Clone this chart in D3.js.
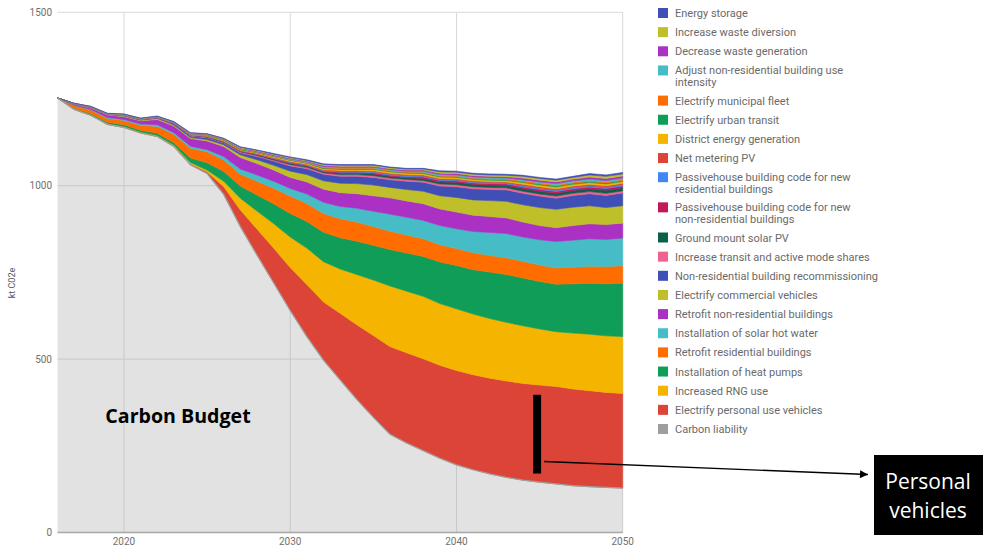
<!DOCTYPE html>
<html><head><meta charset="utf-8">
<script src="https://cdn.jsdelivr.net/npm/d3@7"></script>
<style>
html,body{margin:0;padding:0;background:#fff;}
svg{display:block;}
</style></head>
<body>
<svg id="chart" width="983" height="548"></svg>
<script>
// ---------- DATA ----------
const years = d3.range(2016, 2051);
const yTicks = [0, 500, 1000, 1500];
const xTicks = [2020, 2030, 2040, 2050];
const yTitle = "kt C02e";

// series, bottom of stack first
const seriesNames = [
  "Carbon liability",
  "Electrify personal use vehicles",
  "Increased RNG use",
  "Installation of heat pumps",
  "Retrofit residential buildings",
  "Installation of solar hot water",
  "Retrofit non-residential buildings",
  "Electrify commercial vehicles",
  "Non-residential building recommissioning",
  "Increase transit and active mode shares",
  "Ground mount solar PV",
  "Passivehouse building code for new non-residential buildings",
  "Passivehouse building code for new residential buildings",
  "Net metering PV",
  "District energy generation",
  "Electrify urban transit",
  "Electrify municipal fleet",
  "Adjust non-residential building use intensity",
  "Decrease waste generation",
  "Increase waste diversion",
  "Energy storage"
];
const seriesColors = [
  "#9e9e9e","#db4437","#f4b400","#0f9d58","#ff6d00","#46bdc6","#ab30c4","#bfbf2a",
  "#3f4fb5","#f06292","#0b604b","#c2185b","#4285f4","#db4437","#f4b400","#0f9d58",
  "#ff6d00","#46bdc6","#ab30c4","#bfbf2a","#3f4fb5"
];

const carbonLiability = [1253,1220,1203,1177,1168,1152,1142,1113,1060,1035,975,882,800,720,640,565,497,440,384,332,283,258,236,214,195,181,169,159,151,145,140,135,132,130,128];
const personalVehicles = [0,0,0,0,0,0,0,1,3,5,22,48,75,100,124,150,168,192,215,236,253,260,265,268,272,274,276,278,279,280,281,279,277,274,273];
const rngUse = [0,1,2,2,3,3,3,3,4,5,16,34,52,71,88,105,116,128,145,160,175,178,180,178,178,175,172,169,166,162,158,161,163,163,164];
const heatPumps = [0,2,3,4,5,5,6,7,13,21,28,35,46,57,68,77,85,90,96,100,105,110,115,120,125,128,134,138,138,137,137,142,147,150,154];
const retrofitResidential = [0,8,10,11,12,14,20,24,28,32,33,34,40,45,50,52,54,55,55,54,53,52,51,50,49,49,48,48,48,47,47,48,49,50,50];
const solarHotWater = [0,1,2,3,3,4,5,5,6,6,10,15,18,20,22,27,32,35,40,44,49,51,53,55,57,61,66,70,70,73,76,78,79,78,80];
const retrofitNonRes = [0,3,4,7,8,9,15,19,22,25,29,33,33,32,32,35,38,40,42,45,47,47,48,48,48,47,46,45,43,41,40,42,43,43,43];
const commercialVehicles = [0,1,1,1,2,2,3,3,3,4,5,8,11,14,18,21,24,27,29,31,30,33,36,38,42,44,46,48,50,52,53,53,52,49,50];
const recommissioning = [0,0.5,1,1,2,2,2,4,4,5,5,6,9,12,15,17,19,20,21,22,22,24,26,28,31,32,32,33,33,33,32,34,35,35,37];
const transitActive = [0,0,0.5,0.5,1,1,1,1,2,2,2,3,3,3,4,4,4,5,5,5,5,5,5,6,6,6,6,6,6,6,6,6,6,6,6];
const groundSolar = [0,0,0,0,0,0,0,0,1,1,1,1,2,2,3,3,3,4,4,5,5,5,6,6,7,7,7,7,8,8,8,8,8,9,9];
const passiveNonRes = [0,0,0,0,0,0,0,0,0,0,1,1,1,2,2,2,2,3,3,3,3,3,4,4,4,4,4,4,4,5,5,5,5,5,5];
const passiveRes = [0,0,0,0,0,0,0,0,0,1,1,1,1,1,2,2,2,2,2,3,3,3,3,3,3,3,3,3,4,4,4,4,4,4,4];
const netMetering = [0,0,0,0,0,0,0,1,1,1,1,1,2,2,2,2,2,3,3,3,3,3,3,3,3,3,3,3,4,4,4,4,4,4,4];
const districtEnergy = [0,0,0,0,0,0,1,1,1,1,2,2,2,3,3,3,3,3,3,4,4,4,4,4,4,4,4,4,5,5,5,5,5,5,5];
const urbanTransit = [0,0,0,0,0,0,0,0,0,1,1,1,1,1,1,1,2,2,2,2,2,2,2,2,2,2,2,2,2,3,3,3,3,3,3];
const municipalFleet = [0,0,0,0,0,0,0,0,1,1,1,1,1,1,1,1,2,2,2,2,2,2,2,2,2,2,2,2,3,3,3,3,3,3,3];
const adjustUse = [0,0,0,0,0,0,0,0,1,1,1,1,1,1,2,2,2,2,2,2,2,2,3,3,3,3,3,3,3,3,4,4,4,4,4];
const decreaseWaste = [0,0.5,1,1,1,1,1,1,1,1,1,2,2,2,2,2,3,3,3,3,3,3,3,4,4,4,4,4,5,5,5,5,6,6,6];
const wasteDiversion = [0,0.5,1,1,1,1,1,1,1,1,1,2,2,2,2,2,3,3,3,3,3,3,3,4,4,4,4,4,5,5,5,5,6,6,6];
const energyStorage = [0,0.5,0.5,0.5,1,1,1,1,1,1,1,1,1,2,2,2,2,2,2,2,2,2,2,3,3,3,3,3,3,3,3,3,4,4,4];

const seriesValues = [carbonLiability, personalVehicles, rngUse, heatPumps, retrofitResidential,
  solarHotWater, retrofitNonRes, commercialVehicles, recommissioning, transitActive, groundSolar,
  passiveNonRes, passiveRes, netMetering, districtEnergy, urbanTransit, municipalFleet, adjustUse,
  decreaseWaste, wasteDiversion, energyStorage];

// legend entries (top to bottom), with wrapped labels
const legendLabels = [
  ["Energy storage"],
  ["Increase waste diversion"],
  ["Decrease waste generation"],
  ["Adjust non-residential building use", "intensity"],
  ["Electrify municipal fleet"],
  ["Electrify urban transit"],
  ["District energy generation"],
  ["Net metering PV"],
  ["Passivehouse building code for new", "residential buildings"],
  ["Passivehouse building code for new", "non-residential buildings"],
  ["Ground mount solar PV"],
  ["Increase transit and active mode shares"],
  ["Non-residential building recommissioning"],
  ["Electrify commercial vehicles"],
  ["Retrofit non-residential buildings"],
  ["Installation of solar hot water"],
  ["Retrofit residential buildings"],
  ["Installation of heat pumps"],
  ["Increased RNG use"],
  ["Electrify personal use vehicles"],
  ["Carbon liability"]
];

// ---------- CHART ----------
const svg = d3.select("#chart");
const x = d3.scaleLinear().domain([2016, 2050]).range([57.5, 622.7]);
const y = d3.scaleLinear().domain([0, 1500]).range([532.5, 12.3]);

const table = years.map((yr, i) => {
  const row = {year: yr};
  seriesNames.forEach((n, k) => row[n] = seriesValues[k][i]);
  return row;
});
const stack = d3.stack().keys(seriesNames);
const layers = stack(table);

// grid
const grid = svg.append("g");
grid.selectAll("line.h").data(yTicks.filter(d => d > 0)).join("line")
  .attr("x1", x(2016)).attr("x2", x(2050))
  .attr("y1", d => y(d)).attr("y2", d => y(d))
  .attr("stroke", "#d9d9d9").attr("stroke-width", 1);
grid.selectAll("line.v").data(xTicks).join("line")
  .attr("x1", d => x(d)).attr("x2", d => x(d))
  .attr("y1", y(0)).attr("y2", y(1500))
  .attr("stroke", "#d9d9d9").attr("stroke-width", 1);

const area = d3.area()
  .x(d => x(d.data.year))
  .y0(d => y(d[0]))
  .y1(d => y(d[1]));

svg.append("g").selectAll("path").data(layers).join("path")
  .attr("d", area)
  .attr("fill", (d, i) => seriesColors[i])
  .attr("fill-opacity", (d, i) => i === 0 ? 0.3 : 1)
  .attr("stroke", (d, i) => i === 0 ? "none" : seriesColors[i])
  .attr("stroke-width", 0.6);

// carbon liability top line
svg.append("path")
  .datum(layers[0])
  .attr("d", d3.line().x(d => x(d.data.year)).y(d => y(d[1])))
  .attr("fill", "none").attr("stroke", "#9e9e9e").attr("stroke-width", 1.2);

// baseline
svg.append("line").attr("x1", x(2016)).attr("x2", x(2050))
  .attr("y1", y(0)).attr("y2", y(0)).attr("stroke", "#a8a8a8").attr("stroke-width", 1.5);

// axes labels
const axisFont = "Roboto, Arial, sans-serif";
svg.append("g").selectAll("text").data(yTicks).join("text")
  .attr("x", 52).attr("y", d => y(d) + 3.5)
  .attr("text-anchor", "end")
  .attr("font-family", axisFont).attr("font-size", 10).attr("fill", "#707070")
  .text(d => d);
svg.append("g").selectAll("text").data(xTicks).join("text")
  .attr("x", d => x(d)).attr("y", 545)
  .attr("text-anchor", "middle")
  .attr("font-family", axisFont).attr("font-size", 10).attr("fill", "#707070")
  .text(d => d);
svg.append("text")
  .attr("transform", "translate(15,283) rotate(-90)")
  .attr("text-anchor", "middle")
  .attr("font-family", axisFont).attr("font-size", 9).attr("fill", "#555")
  .text(yTitle);

// legend
const lg = svg.append("g");
let ly = 13;
legendLabels.forEach((lines, i) => {
  const colorIdx = seriesNames.length - 1 - i;
  lg.append("rect").attr("x", 658).attr("y", ly - 5).attr("width", 10).attr("height", 10)
    .attr("fill", seriesColors[colorIdx]);
  const t = lg.append("text").attr("x", 675).attr("y", ly + 4)
    .attr("font-family", axisFont).attr("font-size", 11).attr("fill", "#6a6a6a");
  lines.forEach((ln, j) => {
    t.append("tspan").attr("x", 675).attr("dy", j === 0 ? 0 : 11.5).text(ln);
  });
  ly += 19.15 + (lines.length - 1) * 11;
});

// annotations
svg.append("text")
  .attr("x", 178).attr("y", 423)
  .attr("text-anchor", "middle")
  .attr("font-family", "'Open Sans', sans-serif").attr("font-weight", "bold")
  .attr("font-size", 19.6).attr("fill", "#000")
  .text("Carbon Budget");

svg.append("rect")
  .attr("x", x(2044.85) - 4).attr("y", y(397))
  .attr("width", 8).attr("height", y(170) - y(397))
  .attr("fill", "#000");

svg.append("defs").append("marker")
  .attr("id", "arr").attr("viewBox", "0 0 10 10").attr("refX", 10).attr("refY", 5)
  .attr("markerWidth", 10).attr("markerHeight", 8).attr("markerUnits", "userSpaceOnUse")
  .attr("orient", "auto")
  .append("path").attr("d", "M0,0 L10,5 L0,10 Z").attr("fill", "#000");

svg.append("line")
  .attr("x1", 544).attr("y1", 461.5).attr("x2", 868).attr("y2", 474.5)
  .attr("stroke", "#000").attr("stroke-width", 1.3)
  .attr("marker-end", "url(#arr)");

svg.append("rect").attr("x", 874).attr("y", 455).attr("width", 109).attr("height", 80).attr("fill", "#000");
const bt = svg.append("text").attr("text-anchor", "middle")
  .attr("font-family", "'Open Sans', sans-serif").attr("font-size", 21).attr("fill", "#fff");
bt.append("tspan").attr("x", 928).attr("y", 489).text("Personal");
bt.append("tspan").attr("x", 928).attr("y", 518).text("vehicles");
</script>
</body></html>
